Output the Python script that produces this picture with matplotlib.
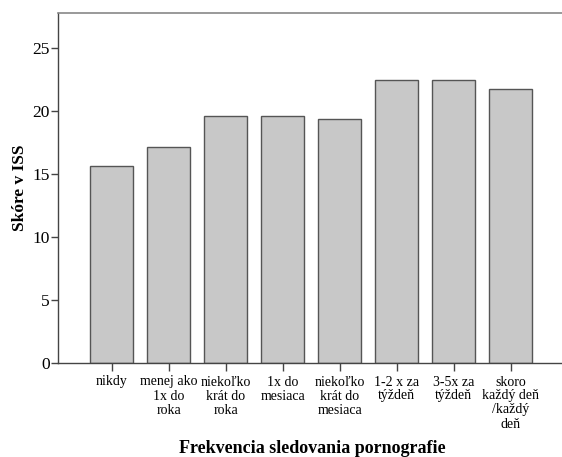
import matplotlib
matplotlib.use("Agg")
import matplotlib.pyplot as plt

# --- data ---------------------------------------------------------------------
categories = [
    "nikdy",
    "menej ako\n1x do\nroka",
    "niekoľko\nkrát do\nroka",
    "1x do\nmesiaca",
    "niekoľko\nkrát do\nmesiaca",
    "1-2 x za\ntýždeň",
    "3-5x za\ntýždeň",
    "skoro\nkaždý deň\n/každý\ndeň",
]
scores = [15.63, 17.15, 19.62, 19.65, 19.38, 22.47, 22.49, 21.77]
y_ticks = [0, 5, 10, 15, 20, 25]

plt.rcParams["font.family"] = ["Liberation Serif", "DejaVu Serif"]

fig = plt.figure(figsize=(5.62, 4.57), dpi=100)
ax = fig.add_axes([58 / 562, 94 / 457, (562 - 58) / 562, 350 / 457])

xs = list(range(len(categories)))
ax.bar(xs, scores, width=0.75, color="#c8c8c8", edgecolor="#555555", linewidth=1.0)

ax.set_xlim(-0.94, 7.9)
ax.set_ylim(0, 27.8)
ax.set_yticks(y_ticks)
ax.set_yticklabels([str(t) for t in y_ticks], fontsize=12.5)
ax.set_xticks(xs)
ax.set_xticklabels(categories, fontsize=10, linespacing=1.1)

ax.tick_params(axis="y", direction="out", length=5, width=1, color="#444444", pad=1)
ax.tick_params(axis="x", direction="out", length=6, width=1, color="#444444", pad=3)

ax.spines["right"].set_visible(False)
for side in ("left", "bottom"):
    ax.spines[side].set_color("#444444")
    ax.spines[side].set_linewidth(1.0)
ax.spines["top"].set_color("#888888")
ax.spines["top"].set_linewidth(1.2)

ax.set_ylabel("Skóre v ISS", fontsize=12.5, fontweight="bold")
ax.yaxis.set_label_coords(-30 / 504, 0.5)
ax.set_xlabel("Frekvencia sledovania pornografie", fontsize=13, fontweight="bold")
ax.xaxis.set_label_coords((312 - 58) / 504, -77 / 350)

fig.savefig("out.png", dpi=100)
